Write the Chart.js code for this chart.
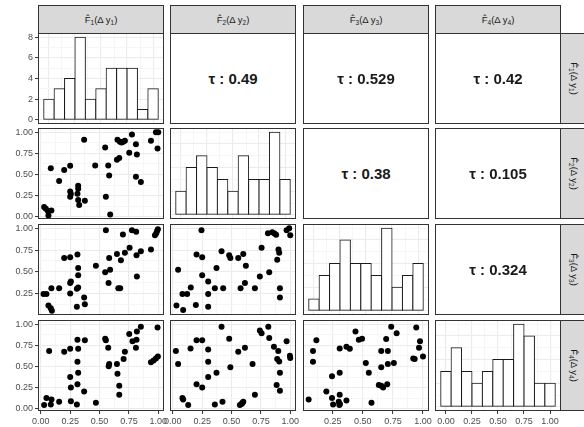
<!DOCTYPE html>
<html>
<head>
<meta charset="utf-8">
<script src="https://cdn.jsdelivr.net/npm/chart.js@4.4.1/dist/chart.umd.min.js"></script>
<style>
  body { margin: 0; background: #fff; }
  #fig { position: relative; width: 584px; height: 427px; overflow: hidden; background: #fff;
         font-family: "Liberation Sans", Arial, "DejaVu Sans", sans-serif; }
  #fig canvas { position: absolute; }
  .strip { position: absolute; box-sizing: border-box; background: #D9D9D9; border: 1px solid #333;
           display: flex; align-items: center; justify-content: center; font-size: 9.5px; color: #1A1A1A;
           white-space: nowrap; }
  .strip.right span { display: inline-block; transform: rotate(90deg); }
  .strip sub { font-size: 6.5px; vertical-align: -2px; line-height: 0; }
  .empty { position: absolute; box-sizing: border-box; border: 1px solid #333; background: #fff;
           display: flex; align-items: center; justify-content: center; }
  .tau { font: bold 15px "Liberation Sans", Arial, sans-serif; color: #1A1A1A; }
</style>
</head>
<body>
<div id="fig"></div>
<script>
// ---- data -------------------------------------------------------------
const varNames = ['1', '2', '3', '4'];

// histogram bins (centres, width 0.1) and counts on the diagonal
const histBins = [0.0, 0.1, 0.2, 0.3, 0.4, 0.5, 0.6, 0.7, 0.8, 0.9, 1.0];
const histF1 = [2, 3, 4, 8, 2, 3, 5, 5, 5, 1, 3];
const histF2 = [2, 4, 5, 4, 3, 2, 5, 3, 3, 7, 3];
const histF3 = [1, 3, 4, 6, 4, 4, 3, 7, 2, 3, 4];
const histF4 = [3, 5, 3, 2, 3, 4, 4, 7, 6, 2, 2];

// Kendall's tau for the upper panels
const tauF1F2 = '0.49', tauF1F3 = '0.529', tauF1F4 = '0.42';
const tauF2F3 = '0.38', tauF2F4 = '0.105', tauF3F4 = '0.324';

// scatter panels (x = column variable, y = row variable)
const f1f2X = [0.028,0.043,0.06,0.09,0.065,0.085,0.156,0.199,0.25,0.25,0.256,0.25,0.318,0.318,0.312,0.318,0.327,0.369,0.375,0.463,0.548,0.554,0.574,0.582,0.591,0.648,0.668,0.653,0.673,0.688,0.702,0.716,0.776,0.753,0.81,0.818,0.81,0.852,0.938,0.98,1.0,0.994];
const f1f2Y = [0.117,0.097,0.07,0.075,0.016,0.575,0.425,0.555,0.603,0.30,0.271,0.239,0.368,0.332,0.275,0.2,0.14,0.911,0.19,0.607,0.818,0.239,0.607,0.49,0.028,0.676,0.696,0.911,0.887,0.879,0.887,0.899,0.972,0.757,0.858,0.737,0.474,0.413,0.899,1.0,1.0,0.806];

const f1f3X = [0.023,0.048,0.065,0.085,0.094,0.09,0.156,0.199,0.25,0.25,0.256,0.25,0.312,0.318,0.318,0.318,0.307,0.307,0.369,0.375,0.469,0.554,0.548,0.577,0.582,0.59,0.648,0.66,0.676,0.682,0.699,0.716,0.756,0.776,0.812,0.815,0.818,0.852,0.938,0.972,0.983,0.99,0.997];
const f1f3Y = [0.246,0.246,0.111,0.08,0.053,0.312,0.312,0.66,0.668,0.37,0.389,0.25,0.70,0.544,0.46,0.32,0.304,0.099,0.204,0.126,0.571,0.977,0.494,0.37,0.66,0.525,0.706,0.312,0.312,0.633,0.93,0.718,0.776,0.977,0.961,0.69,0.447,0.737,0.756,0.92,0.945,0.97,0.99];

const f2f3X = [0.031,0.088,0.045,0.082,0.122,0.153,0.196,0.202,0.244,0.25,0.25,0.301,0.301,0.301,0.358,0.372,0.415,0.429,0.48,0.49,0.557,0.577,0.6,0.614,0.622,0.699,0.741,0.756,0.821,0.81,0.847,0.866,0.88,0.889,0.9,0.906,0.912,0.912,0.969,0.991,1.0];
const f2f3Y = [0.111,0.06,0.525,0.246,0.246,0.32,0.119,0.70,0.977,0.668,0.46,0.389,0.246,0.099,0.312,0.544,0.737,0.312,0.69,0.66,0.66,0.312,0.706,0.37,0.571,0.312,0.447,0.776,0.494,0.945,0.955,0.94,0.925,0.64,0.757,0.718,0.312,0.204,0.977,1.0,0.92];

const f1f4X = [0.028,0.048,0.071,0.085,0.091,0.156,0.199,0.25,0.25,0.256,0.256,0.307,0.312,0.318,0.312,0.318,0.312,0.369,0.375,0.469,0.548,0.554,0.574,0.582,0.578,0.648,0.653,0.668,0.668,0.705,0.716,0.753,0.781,0.81,0.818,0.815,0.852,0.938,0.96,0.98,0.997,0.994];
const f1f4Y = [0.046,0.13,0.683,0.053,0.111,0.084,0.676,0.71,0.378,0.252,0.092,0.053,0.817,0.71,0.557,0.427,0.29,0.206,0.809,0.073,0.828,0.809,0.721,0.53,0.505,0.53,0.416,0.275,0.168,0.588,0.676,0.885,0.798,0.721,0.912,0.817,0.969,0.55,0.57,0.595,0.618,0.962];

const f2f4X = [0.026,0.045,0.082,0.088,0.131,0.151,0.202,0.25,0.202,0.25,0.301,0.301,0.301,0.372,0.358,0.423,0.415,0.48,0.49,0.557,0.614,0.571,0.585,0.6,0.592,0.679,0.699,0.741,0.756,0.813,0.821,0.861,0.889,0.906,0.898,0.884,0.912,0.912,0.969,0.997,1.0];
const f2f4Y = [0.683,0.53,0.13,0.111,0.046,0.714,0.809,0.809,0.29,0.252,0.702,0.557,0.378,0.427,0.053,0.084,0.969,0.828,0.492,0.676,0.721,0.046,0.06,0.084,0.07,0.53,0.168,0.924,0.893,0.969,0.836,0.733,0.588,0.561,0.683,0.282,0.427,0.214,0.798,0.626,0.6];

const f3f4X = [0.05,0.086,0.086,0.114,0.197,0.244,0.244,0.253,0.308,0.308,0.308,0.3,0.31,0.305,0.364,0.364,0.392,0.439,0.467,0.494,0.525,0.55,0.572,0.633,0.653,0.669,0.703,0.653,0.653,0.694,0.708,0.708,0.758,0.736,0.781,0.919,0.931,0.944,0.967,0.975,1.0];
const f3f4Y = [0.111,0.683,0.557,0.809,0.206,0.385,0.13,0.053,0.427,0.168,0.714,0.084,0.06,0.046,0.099,0.733,0.71,0.912,0.817,0.828,0.542,0.427,0.073,0.282,0.275,0.252,0.29,0.492,0.683,0.824,0.683,0.53,0.542,0.969,0.893,0.595,0.588,0.962,0.721,0.798,0.618];

// tick positions
const unitMajor = [0, 0.25, 0.5, 0.75, 1];
const unitMinor = [0.125, 0.375, 0.625, 0.875];
const countMajor = [0, 2, 4, 6, 8];
const countMinor = [1, 3, 5, 7];

// ---- layout -----------------------------------------------------------
const colLeft = [38, 170, 303, 435];
const rowTop = [33, 128, 224, 320];
const panelW = 126, panelH = 91;
const M = { l: 40, t: 10, r: 14, b: 22 };

// axis limits per variable (data range expanded by 5%)
const limits = [[-0.024, 1.049], [-0.024, 1.049], [0.003, 1.05], [-0.024, 1.049]];
const histLimits = [-0.105, 1.105];
const histCounts = [histF1, histF2, histF3, histF4];

const fig = document.getElementById('fig');
Chart.defaults.font.family = '"Liberation Sans", Arial, sans-serif';
Chart.defaults.animation = false;

const panelBorder = {
  id: 'panelBorder',
  afterDraw(chart) {
    const { ctx, chartArea: a } = chart;
    ctx.save();
    ctx.strokeStyle = '#333333';
    ctx.lineWidth = 1;
    ctx.strokeRect(a.left + 0.5, a.top + 0.5, a.right - a.left - 1, a.bottom - a.top - 1);
    ctx.restore();
  }
};

function has(list, v) { return list.some(m => Math.abs(m - v) < 1e-9); }

function axis(pos, lim, majors, minors, showLabels, fmt) {
  const all = majors.concat(minors).filter(v => v >= lim[0] && v <= lim[1]).sort((a, b) => a - b);
  return {
    type: 'linear', position: pos, min: lim[0], max: lim[1], offset: false,
    afterBuildTicks: s => { s.ticks = all.map(v => ({ value: v })); },
    afterFit: s => { if (pos === 'left') s.width = M.l; else s.height = M.b; },
    border: { display: false },
    grid: {
      offset: false,
      color: c => (c.tick && has(majors, c.tick.value)) ? '#EBEBEB' : '#F4F4F4',
      lineWidth: c => (c.tick && has(majors, c.tick.value)) ? 1.1 : 0.8,
      drawTicks: true, tickLength: 3, tickWidth: 1,
      tickColor: c => (showLabels && c.tick && has(majors, c.tick.value)) ? '#333333' : 'rgba(0,0,0,0)'
    },
    ticks: {
      display: showLabels, autoSkip: false, maxRotation: 0, minRotation: 0, padding: 2,
      color: '#4D4D4D', font: { size: 9 },
      callback: v => has(majors, v) ? fmt(v) : ''
    }
  };
}

function makeCanvas(col, row) {
  const c = document.createElement('canvas');
  const w = panelW + M.l + M.r, h = panelH + M.t + M.b;
  c.width = w; c.height = h;
  c.style.width = w + 'px'; c.style.height = h + 'px';
  c.style.left = (colLeft[col] - M.l) + 'px';
  c.style.top = (rowTop[row] - M.t) + 'px';
  fig.appendChild(c);
  return c;
}

const baseOptions = () => ({
  responsive: false, animation: false,
  layout: { padding: { top: M.t, right: M.r, left: 0, bottom: 0 }, autoPadding: false },
  plugins: { legend: { display: false }, tooltip: { enabled: false } }
});

const fmt2 = v => v.toFixed(2);
const fmt0 = v => String(v);

function scatterPanel(col, row, xs, ys) {
  const opts = baseOptions();
  opts.scales = {
    x: axis('bottom', limits[col], unitMajor, unitMinor, row === 3, fmt2),
    y: axis('left', limits[row], unitMajor, unitMinor, col === 0, fmt2)
  };
  new Chart(makeCanvas(col, row), {
    type: 'scatter',
    data: { datasets: [{ data: xs.map((x, i) => ({ x: x, y: ys[i] })),
      backgroundColor: '#000', borderWidth: 0, pointRadius: 3, pointHoverRadius: 3 }] },
    options: opts,
    plugins: [panelBorder]
  });
}

function histPanel(k) {
  const counts = histCounts[k];
  const top = Math.max(...counts);
  const opts = baseOptions();
  const cMaj = countMajor.filter(v => v <= top), cMin = countMinor.filter(v => v <= top);
  opts.scales = {
    x: axis('bottom', histLimits, unitMajor, unitMinor, k === 3, fmt2),
    y: axis('left', [-0.05 * top, 1.05 * top], cMaj, cMin, k === 0, fmt0)
  };
  new Chart(makeCanvas(k, k), {
    type: 'bar',
    data: { datasets: [{ data: histBins.map((b, i) => ({ x: b, y: counts[i] })),
      backgroundColor: '#FFFFFF', borderColor: '#1A1A1A', borderWidth: 1, borderSkipped: false,
      inflateAmount: 0.5, barPercentage: 1, categoryPercentage: 1 }] },
    options: opts,
    plugins: [panelBorder]
  });
}

function tauPanel(col, row, value) {
  const d = document.createElement('div');
  d.className = 'empty';
  Object.assign(d.style, { left: colLeft[col] + 'px', top: rowTop[row] + 'px',
    width: panelW + 'px', height: panelH + 'px' });
  d.innerHTML = '<span class="tau">\u03C4 : ' + value + '</span>';
  fig.appendChild(d);
}

function stripLabel(n) {
  return 'F\u0302<sub>' + n + '</sub>(\u0394 y<sub>' + n + '</sub>)';
}

// strips
varNames.forEach((n, i) => {
  const s = document.createElement('div');
  s.className = 'strip';
  Object.assign(s.style, { left: colLeft[i] + 'px', top: '5px', width: panelW + 'px', height: '29px' });
  s.innerHTML = '<span>' + stripLabel(n) + '</span>';
  fig.appendChild(s);

  const r = document.createElement('div');
  r.className = 'strip right';
  Object.assign(r.style, { left: (colLeft[3] + panelW - 1) + 'px', top: rowTop[i] + 'px',
    width: '29px', height: panelH + 'px' });
  r.innerHTML = '<span>' + stripLabel(n) + '</span>';
  fig.appendChild(r);
});

// diagonal
[0, 1, 2, 3].forEach(histPanel);

// lower triangle
scatterPanel(0, 1, f1f2X, f1f2Y);
scatterPanel(0, 2, f1f3X, f1f3Y);
scatterPanel(1, 2, f2f3X, f2f3Y);
scatterPanel(0, 3, f1f4X, f1f4Y);
scatterPanel(1, 3, f2f4X, f2f4Y);
scatterPanel(2, 3, f3f4X, f3f4Y);

// upper triangle
tauPanel(1, 0, tauF1F2);
tauPanel(2, 0, tauF1F3);
tauPanel(3, 0, tauF1F4);
tauPanel(2, 1, tauF2F3);
tauPanel(3, 1, tauF2F4);
tauPanel(3, 2, tauF3F4);
</script>
</body>
</html>
